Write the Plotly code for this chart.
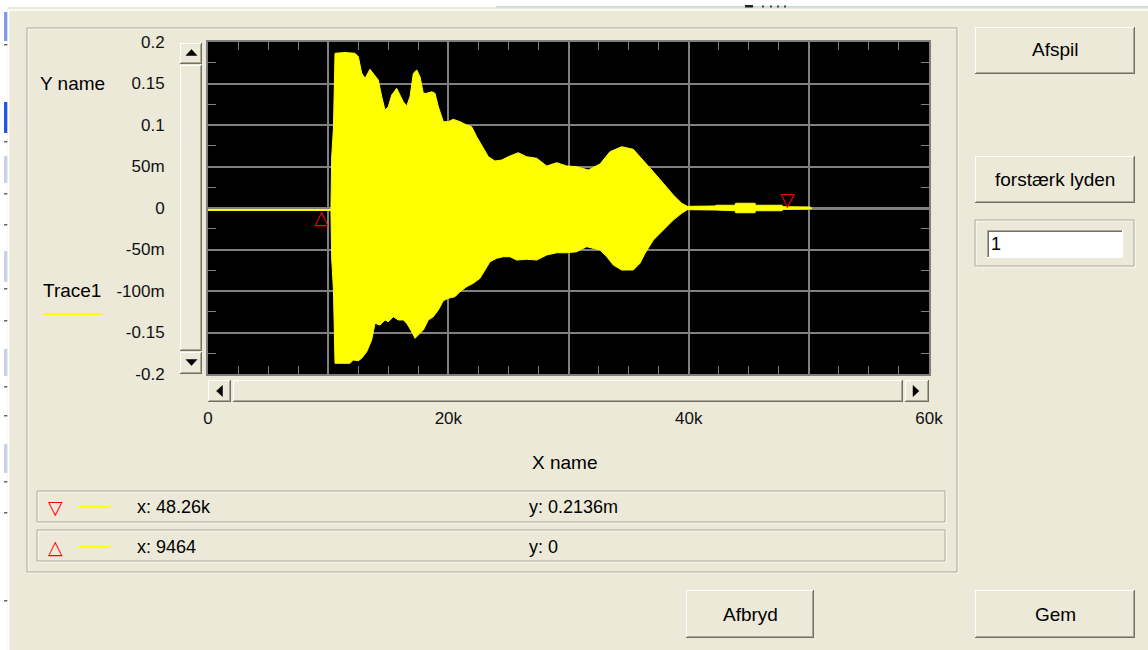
import plotly.graph_objects as go

# Recorded signal envelope: sample index -> amplitude (V)
upper_sample = [0, 10230, 10290, 10440, 10570, 11400, 12230, 12510, 12790, 13070,
                13480, 13760, 14170, 14460, 14730, 15000, 15290, 15700, 15980, 16250,
                16540, 16810, 17090, 17370, 17640, 17920, 18200, 18620, 18890, 19170,
                19580, 20000, 20410, 20970, 21530, 21940, 22360, 22780, 23330, 23880,
                24440, 25130, 25820, 26520, 27350, 28190, 29020, 29850, 30680, 31650,
                32620, 33450, 34430, 35390, 36220, 37060, 37890, 38720, 39420, 39890,
                42190, 42270, 43860, 43900, 45520, 45560, 47770, 47850, 50100, 50260]
upper_amp = [-0.0018, -0.0018, 0.0602, 0.0964, 0.1864, 0.1873, 0.1864, 0.1823, 0.1623, 0.1563,
             0.1671, 0.1623, 0.1542, 0.1341, 0.1181, 0.1220, 0.1361, 0.1442, 0.1361, 0.1281,
             0.1229, 0.1341, 0.1623, 0.1663, 0.1582, 0.1382, 0.1382, 0.1401, 0.1382, 0.1220,
             0.1040, 0.1040, 0.1069, 0.1040, 0.1000, 0.0980, 0.0859, 0.0759, 0.0618, 0.0566,
             0.0578, 0.0627, 0.0666, 0.0618, 0.0599, 0.0506, 0.0546, 0.0506, 0.0498, 0.0458,
             0.0530, 0.0678, 0.0739, 0.0707, 0.0578, 0.0437, 0.0298, 0.0157, 0.0057, 0.0020,
             0.0024, 0.0033, 0.0033, 0.0057, 0.0057, 0.0033, 0.0033, 0.0016, 0.0012, 0.0004]

lower_sample = [0, 10230, 10290, 10440, 10570, 11820, 12090, 12510, 12790, 13210,
                13620, 13900, 14310, 14730, 15000, 15420, 15840, 16250, 16540, 16950,
                17230, 17500, 17920, 18330, 18750, 19170, 19580, 20000, 20550, 20970,
                21530, 22080, 22630, 23050, 23470, 24020, 24570, 25130, 25690, 26520,
                27350, 28190, 29020, 29850, 30680, 31510, 32620, 33180, 33730, 34430,
                35390, 35950, 36370, 37060, 37890, 38720, 39420, 39890,
                42190, 42270, 43860, 43900, 45520, 45560, 47770, 47850, 50100, 50260]
lower_amp = [-0.0030, -0.0030, -0.0602, -0.0988, -0.1871, -0.1871, -0.1831, -0.1840, -0.1811, -0.1731,
             -0.1590, -0.1389, -0.1410, -0.1349, -0.1370, -0.1310, -0.1349, -0.1349, -0.1389, -0.1490,
             -0.1570, -0.1530, -0.1470, -0.1349, -0.1310, -0.1229, -0.1117, -0.1088, -0.1069, -0.1008,
             -0.0948, -0.0907, -0.0847, -0.0747, -0.0647, -0.0606, -0.0587, -0.0587, -0.0627, -0.0618,
             -0.0627, -0.0566, -0.0539, -0.0539, -0.0527, -0.0466, -0.0506, -0.0587, -0.0687, -0.0747,
             -0.0747, -0.0666, -0.0546, -0.0386, -0.0265, -0.0145, -0.0064, -0.0020,
             -0.0024, -0.0033, -0.0033, -0.0057, -0.0057, -0.0033, -0.0033, -0.0016, -0.0012, -0.0004]

x_tick_vals = [0, 10000, 20000, 30000, 40000, 50000, 60000]
x_tick_text = ["0", "", "20k", "", "40k", "", "60k"]
y_tick_vals = [-0.2, -0.15, -0.1, -0.05, 0, 0.05, 0.1, 0.15, 0.2]
y_tick_text = ["-0.2", "-0.15", "-100m", "-50m", "0", "50m", "0.1", "0.15", "0.2"]

# Graph cursors
cursor_x = [48260, 9464]
cursor_y = [0.0002136, 0.0]
cursor_glyph = ["\u25BD", "\u25B3"]
cursor_anchor = ["bottom", "top"]

BG = "#ECE9D8"
GRID = "#808080"
YELLOW = "#FFFF00"
FONT = "Liberation Sans, Arial, sans-serif"
W, H = 1148, 650
PL, PR, PT, PB = 208, 929, 42, 374  # plot area in pixels


def eng(v):
    if v == 0:
        return "0"
    a = abs(v)
    if a >= 1e4:
        return f"{v / 1e3:.4g}k"
    if a >= 1e-1:
        return f"{v:.4g}"
    return f"{v * 1e3:.4g}m"


def px(x):
    return (x - PL) / (PR - PL)


def py(y):
    return (PB - y) / (PB - PT)


shapes = []
annotations = []


def rect(x0, y0, x1, y1, fill=None, line=None, lw=1):
    shapes.append(dict(type="rect", xref="paper", yref="paper",
                       x0=px(x0), x1=px(x1), y0=py(y1), y1=py(y0),
                       fillcolor=fill or "rgba(0,0,0,0)",
                       line=dict(color=line or "rgba(0,0,0,0)", width=lw if line else 0),
                       layer="above"))


def seg(x0, y0, x1, y1, color, w=1):
    shapes.append(dict(type="line", xref="paper", yref="paper",
                       x0=px(x0), x1=px(x1), y0=py(y0), y1=py(y1),
                       line=dict(color=color, width=w), layer="above"))


def tri(pts, color="#000000"):
    path = "M " + " L ".join(f"{px(a)},{py(b)}" for a, b in pts) + " Z"
    shapes.append(dict(type="path", xref="paper", yref="paper", path=path,
                       fillcolor=color, line=dict(color=color, width=0.5), layer="above"))


def raised(x0, y0, x1, y1):
    rect(x0, y0, x1, y1, fill=BG)
    seg(x0, y0 + 0.5, x1 - 1, y0 + 0.5, "#FFFFFF")
    seg(x0 + 0.5, y0, x0 + 0.5, y1 - 1, "#FFFFFF")
    seg(x0, y1 - 0.5, x1, y1 - 0.5, "#716F64")
    seg(x1 - 0.5, y0, x1 - 0.5, y1, "#716F64")
    seg(x0 + 1, y1 - 1.5, x1 - 1, y1 - 1.5, "#ACA899")
    seg(x1 - 1.5, y0 + 1, x1 - 1.5, y1 - 1, "#ACA899")


def sunken(x0, y0, x1, y1, fill="#FFFFFF"):
    rect(x0, y0, x1, y1, fill=fill)
    seg(x0, y0 + 0.5, x1, y0 + 0.5, "#ACA899")
    seg(x0 + 0.5, y0, x0 + 0.5, y1, "#ACA899")
    seg(x0 + 1, y0 + 1.5, x1 - 1, y0 + 1.5, "#716F64")
    seg(x0 + 1.5, y0 + 1, x0 + 1.5, y1 - 1, "#716F64")
    seg(x0, y1 - 0.5, x1, y1 - 0.5, "#FFFFFF")
    seg(x1 - 0.5, y0, x1 - 0.5, y1, "#FFFFFF")


def etched(x0, y0, x1, y1):
    rect(x0 + 1, y0 + 1, x1 + 1, y1 + 1, line="#FFFFFF")
    rect(x0, y0, x1, y1, line="#ACA899")


def text(s, x, y, size=19, xanchor="left", color="#000000", family=FONT):
    annotations.append(dict(text=s, x=px(x), y=py(y), xref="paper", yref="paper",
                            xanchor=xanchor, yanchor="middle", showarrow=False,
                            font=dict(family=family, size=size, color=color)))


# window edges
rect(0, 0, W, 7, fill="#FFFFFF")
seg(496, 6.8, W, 6.8, "#C6D6DC", 1.5)
rect(745, 5, 753, 7.5, fill="#222222")
for xx in (762, 770, 777, 784):
    rect(xx, 5.5, xx + 2, 7.5, fill="#444444")
seg(8, 10, W, 10, "#FFFFFF", 1.5)
rect(0, 0, 7.5, H, fill="#FFFFFF")
seg(8.5, 10, 8.5, H, "#FFFFFF", 1.5)
rect(4, 12, 7.3, 41, fill="#7B9DE6")
rect(4, 102, 7.3, 133, fill="#1E56E8")
for a, b in ((156, 183), (251, 282), (349, 376), (444, 473)):
    rect(4, a, 7.3, b, fill="#C5D4E0")
for yy in (44, 141, 193, 224, 288, 320, 386, 415, 481, 512, 600):
    rect(4, yy, 7.3, yy + 1.5, fill="#666666")

# group frame
etched(27, 28, 957, 572)

# vertical scrollbar
raised(180, 43, 202, 64)
tri([(186, 55.5), (197, 55.5), (191.5, 49.5)])
raised(180, 65, 202, 351)
raised(180, 352, 202, 374)
tri([(186, 359.5), (197, 359.5), (191.5, 365.5)])

# horizontal scrollbar
raised(208, 380, 231, 402)
tri([(222.5, 385.5), (222.5, 396.5), (216.5, 391)])
raised(233, 380, 903, 402)
raised(905, 380, 929, 402)
tri([(913, 385.5), (913, 396.5), (919, 391)])

# labels around the graph
text("Y name", 38, 83)
text("Trace1", 41, 290)
seg(43, 314, 102, 314, YELLOW, 2)
text("X name", 564, 462, xanchor="center")

# cursor legend
for i, (row_y, (x0, x1)) in enumerate(zip((507, 547), ((491, 522), (530, 561)))):
    etched(37, x0, 945, x1)
    text(cursor_glyph[i], 55.5, row_y, size=19, xanchor="center", color="#FF0000",
         family="DejaVu Sans")
    seg(78, row_y, 110, row_y, YELLOW, 2)
    text("x: " + eng(cursor_x[i]), 135, row_y, size=18)
    text("y: " + eng(cursor_y[i]), 527, row_y, size=18)

# buttons and gain input
raised(975, 27, 1135, 74)
text("Afspil", 1055, 50, xanchor="center")
raised(975, 156, 1135, 203)
text("forstærk lyden", 1055, 180, xanchor="center")
etched(975, 220, 1134, 266)
sunken(987, 230, 1123, 258)
text("1", 989, 244, size=18)
raised(686, 590, 814, 638)
text("Afbryd", 750, 614, xanchor="center")
raised(975, 590, 1135, 638)
text("Gem", 1055, 614, xanchor="center")

# cursor markers on the graph
for cx, cy, g, anc in zip(cursor_x, cursor_y, cursor_glyph, cursor_anchor):
    annotations.append(dict(text=g, x=cx, y=cy, xref="x", yref="y", showarrow=False,
                            xanchor="center", yanchor=anc,
                            yshift=-4 if anc == "bottom" else 4,
                            font=dict(family="DejaVu Sans", size=19, color="#FF0000")))

fig = go.Figure()
fig.add_trace(go.Scatter(
    x=upper_sample + lower_sample[::-1],
    y=upper_amp + lower_amp[::-1],
    mode="lines", fill="toself", fillcolor=YELLOW,
    line=dict(color=YELLOW, width=1), hoverinfo="skip", showlegend=False))

tickfont = dict(family=FONT, size=17, color="#111111")
fig.update_layout(
    width=W, height=H, autosize=False,
    margin=dict(l=PL, r=W - PR, t=PT, b=H - PB, pad=0),
    paper_bgcolor=BG, plot_bgcolor="#000000",
    showlegend=False,
    xaxis=dict(range=[0, 60000], tickvals=x_tick_vals, ticktext=x_tick_text,
               ticks="inside", ticklen=8, tickcolor=GRID, tickwidth=1,
               showgrid=True, gridcolor=GRID, gridwidth=1.5, zeroline=False,
               showline=True, linecolor=GRID, linewidth=2, mirror="ticks",
               minor=dict(dtick=2500, tick0=0, ticks="inside", ticklen=8,
                          tickcolor=GRID, tickwidth=1, showgrid=False),
               tickfont=tickfont, ticklabelstandoff=28, fixedrange=True),
    yaxis=dict(range=[-0.2, 0.2], tickvals=y_tick_vals, ticktext=y_tick_text,
               ticks="inside", ticklen=8, tickcolor=GRID, tickwidth=1,
               showgrid=True, gridcolor=GRID, gridwidth=1.5,
               zeroline=True, zerolinecolor=GRID, zerolinewidth=3,
               showline=True, linecolor=GRID, linewidth=2, mirror="ticks",
               minor=dict(dtick=0.025, tick0=0, ticks="inside", ticklen=8,
                          tickcolor=GRID, tickwidth=1, showgrid=False),
               tickfont=tickfont, ticklabelstandoff=38, fixedrange=True),
    shapes=shapes,
    annotations=annotations,
)

fig.write_html("out.html", config={"displayModeBar": False})
